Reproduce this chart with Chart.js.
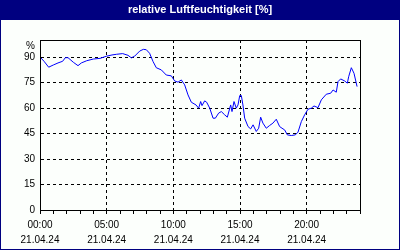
<!DOCTYPE html>
<html>
<head>
<meta charset="utf-8">
<script src="https://cdn.jsdelivr.net/npm/chart.js@4/dist/chart.umd.min.js"></script>
<style>
  html, body { margin: 0; padding: 0; background: #fff; }
  canvas { display: block; }
</style>
</head>
<body>
<canvas id="humChart" width="400" height="250"></canvas>
<script>
// readings: hour of day -> relative humidity in %
const hours = [0.0, 0.3, 0.65, 1.0, 1.35, 1.7, 1.9, 2.1, 2.5, 2.85, 3.1, 3.5, 4.0, 4.5, 5.0, 5.4, 5.75, 6.2, 6.6, 6.85,
  7.1, 7.48, 7.75, 7.97, 8.22, 8.48, 8.72, 9.1, 9.47, 9.85, 10.1, 10.35, 10.6, 10.85, 11.1, 11.35, 11.7, 11.9, 12.05, 12.15,
  12.35, 12.5, 12.73, 12.98, 13.15, 13.4, 13.6, 13.85, 14.05, 14.3, 14.4, 14.55, 14.72, 14.85, 14.98, 15.1, 15.22, 15.35, 15.6, 15.8,
  15.98, 16.22, 16.4, 16.55, 16.72, 16.97, 17.22, 17.47, 17.72, 17.97, 18.15, 18.35, 18.55, 18.85, 19.15, 19.35, 19.6, 19.85, 20.1, 20.35,
  20.55, 20.85, 21.1, 21.47, 21.8, 21.98, 22.22, 22.35, 22.55, 22.85, 23.05, 23.15, 23.35, 23.55, 23.78];
const humidity = [90, 87.5, 84, 85.3, 86.5, 87.5, 89.6, 89.6, 86.9, 84.9, 86.5, 87.8, 88.8, 89.2, 90.5, 91.2, 91.6, 92.0, 91.0, 89.5,
  90.5, 93.5, 94.5, 94.3, 92.2, 87.3, 83.7, 82.4, 79.4, 78.9, 75.9, 75.2, 76.5, 73.6, 67.7, 63.4, 61.8, 59.9, 63.8, 61.4,
  64.2, 63.4, 59.9, 54, 54, 57, 57.9, 56, 54.6, 61.8, 57.9, 63.8, 59.9, 61.8, 67.3, 67.3, 61.8, 54, 49.1, 47.7,
  50.1, 46.2, 48.1, 54.6, 51.1, 48.1, 49.7, 51.1, 53.4, 49.1, 48.1, 47.1, 44.2, 43.8, 44.2, 45.8, 52, 56, 59.3, 59.9,
  61.2, 60.2, 64.8, 68.1, 68.7, 70.6, 69.3, 75.5, 77.1, 75.9, 74.6, 78.4, 83.7, 80.4, 72.6];
const dateLabel = '21.04.24';
const titleText = 'relative Luftfeuchtigkeit [%]';

Chart.defaults.font.family = 'Liberation Sans';
Chart.defaults.font.size = 10;
Chart.defaults.color = '#000';

// navy frame, title bar and plot border
const framePlugin = {
  id: 'frame',
  beforeDraw(chart) {
    const c = chart.ctx;
    c.save();
    c.fillStyle = '#000080';
    c.fillRect(0, 0, chart.width, chart.height);
    c.fillStyle = '#fcfffc';
    c.fillRect(1, 20, chart.width - 2, chart.height - 21);
    c.fillStyle = '#fff';
    c.font = 'bold 11px "Liberation Sans"';
    c.textAlign = 'center';
    c.textBaseline = 'middle';
    c.fillText(titleText, chart.width / 2, 10);
    c.restore();
  },
  afterDraw(chart) {
    const a = chart.chartArea;
    const c = chart.ctx;
    c.save();
    c.strokeStyle = '#000';
    c.lineWidth = 1;
    c.strokeRect(Math.round(a.left) + 0.5, Math.round(a.top) + 0.5, Math.round(a.right - a.left), Math.round(a.bottom - a.top));
    c.restore();
  }
};

new Chart(document.getElementById('humChart'), {
  type: 'line',
  data: {
    datasets: [{
      data: hours.map((h, i) => ({ x: h, y: humidity[i] })),
      borderColor: '#0000ff',
      borderWidth: 1,
      pointRadius: 0,
      tension: 0
    }]
  },
  options: {
    responsive: false,
    animation: false,
    layout: { padding: { top: 40, right: 40, left: 0, bottom: 0 } },
    plugins: { legend: { display: false }, tooltip: { enabled: false } },
    scales: {
      x: {
        type: 'linear',
        min: 0,
        max: 24,
        afterFit: s => { s.height = 40; },
        border: { color: '#000', dash: [3, 3] },
        grid: {
          color: ctx => (ctx.tick && ctx.tick.value % 5 === 0) ? '#000' : 'rgba(0,0,0,0)',
          tickColor: '#000',
          tickLength: 4,
          tickBorderDash: []
        },
        ticks: {
          stepSize: 1,
          autoSkip: false,
          maxRotation: 0,
          padding: 4,
          font: { lineHeight: 1.5 },
          callback: v => (v % 5 === 0 && v < 24) ? [String(v).padStart(2, '0') + ':00', dateLabel] : ''
        }
      },
      y: {
        min: 0,
        max: 100,
        afterFit: s => { s.width = 40; },
        border: { color: '#000', dash: [3, 3] },
        grid: { color: '#000', drawTicks: false },
        ticks: {
          stepSize: 15,
          autoSkip: false,
          padding: 5,
          callback: v => v === 100 ? ['', '%'] : v
        }
      }
    }
  },
  plugins: [framePlugin]
});
</script>
</body>
</html>
